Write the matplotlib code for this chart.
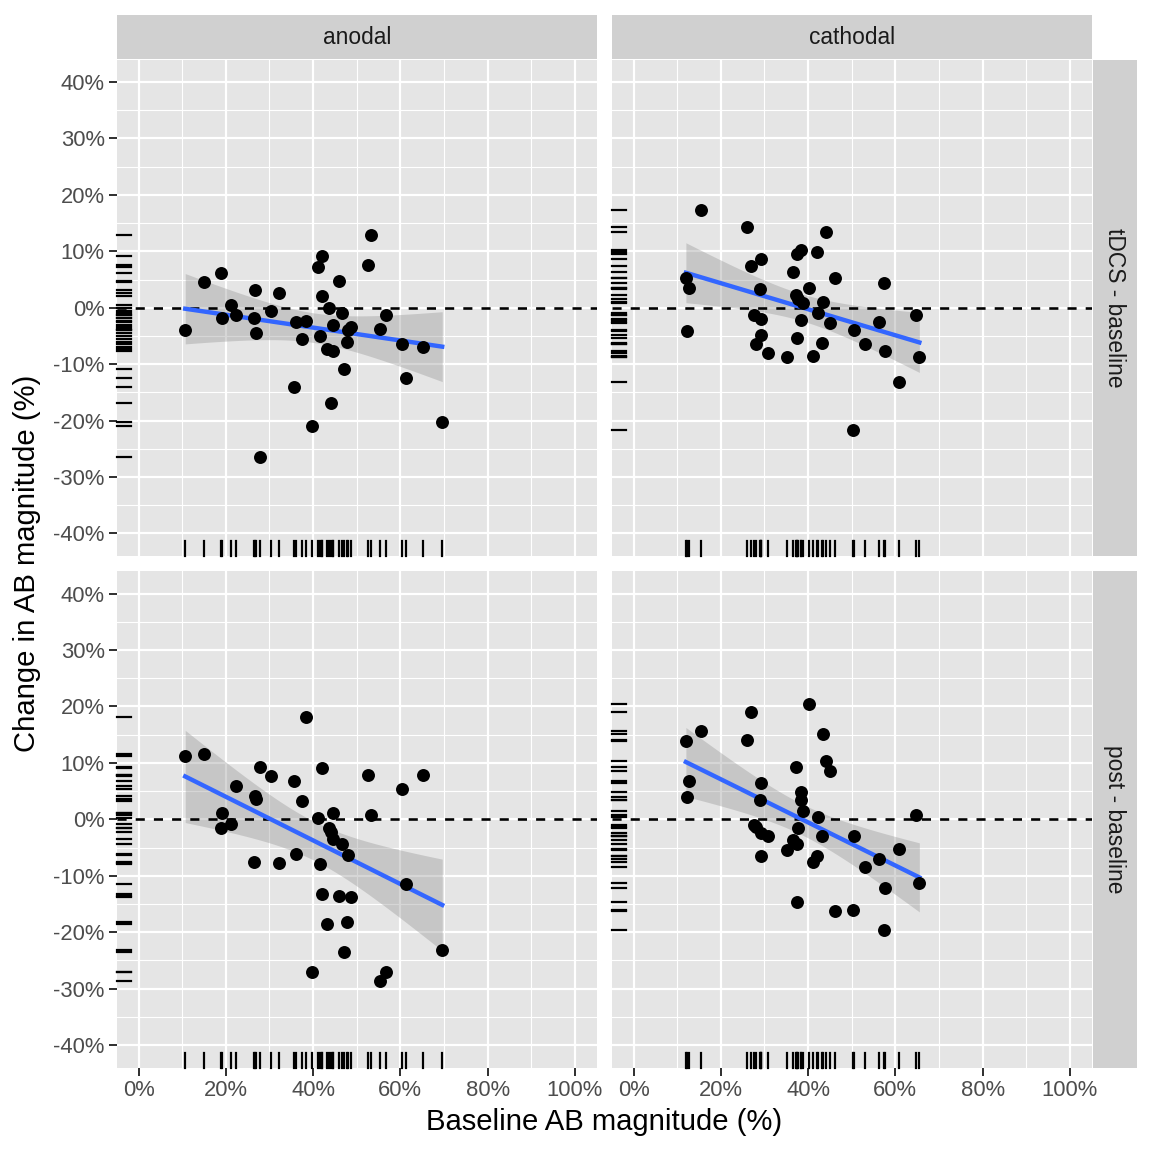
import matplotlib
matplotlib.use("Agg")
import matplotlib.pyplot as plt
import numpy as np

plt.rcParams['font.family'] = ['Liberation Sans', 'DejaVu Sans']

# baseline magnitude (%) per subject, one list per stimulation type
anodal_base = [10.7, 14.9, 18.8, 19.2, 21.2, 22.4, 26.7, 26.5, 27.0, 27.8,
               30.3, 32.3, 35.7, 36.2, 37.5, 38.3, 39.7, 41.1, 41.6, 42.0,
               42.0, 43.1, 43.7, 44.2, 44.5, 44.6, 45.9, 46.6, 47.0, 47.8,
               48.0, 48.8, 52.5, 53.2, 55.4, 56.7, 60.3, 61.3, 65.3, 69.6]
anodal_tdcs = [-3.9, 4.5, 6.1, -1.9, 0.4, -1.3, 3.2, -1.9, -4.4, -26.5,
               -0.6, 2.7, -14.0, -2.6, -5.6, -2.4, -20.9, 7.2, -5.0, 9.2,
               2.0, -7.3, -0.1, -16.8, -3.0, -7.7, 4.7, -1.0, -10.8, -6.1,
               -4.0, -3.5, 7.5, 12.9, -3.7, -1.3, -6.4, -12.4, -6.9, -20.3]
anodal_post = [11.2, 11.6, -1.6, 1.1, -0.9, 5.9, 4.2, -7.5, 3.6, 9.3,
               7.6, -7.8, 6.8, -6.1, 3.2, 18.2, -27.0, 0.2, -7.9, 9.1,
               -13.3, -18.6, -1.6, -2.3, 1.2, -3.4, -13.6, -4.4, -23.5, -18.1,
               -6.3, -13.7, 7.8, 0.8, -28.7, -27.0, 5.3, -11.4, 7.8, -23.2]

cathodal_base = [12.0, 12.2, 12.7, 15.5, 26.1, 26.9, 27.5, 28.1, 29.0, 29.2,
                 29.3, 29.3, 30.8, 35.1, 36.5, 37.3, 37.4, 37.4, 37.6, 38.4,
                 38.4, 38.8, 40.3, 41.2, 42.0, 42.2, 43.2, 43.5, 44.2, 45.1,
                 46.2, 50.2, 50.6, 53.1, 56.2, 57.5, 57.6, 60.9, 64.8, 65.5]
cathodal_tdcs = [5.3, -4.1, 3.5, 17.3, 14.4, 7.4, -1.2, -6.5, 3.4, -2.0,
                 8.7, -4.8, -8.1, -8.8, 6.3, 2.2, 9.5, -5.3, 1.5, 10.2,
                 -2.1, 0.9, 3.5, -8.5, 9.9, -1.0, -6.3, 1.1, 13.4, -2.7,
                 5.2, -21.6, -4.0, -6.5, -2.5, 4.4, -7.7, -13.2, -1.3, -8.7]
cathodal_post = [13.8, 4.0, 6.8, 15.6, 14.0, 19.1, -1.0, -1.4, 3.4, 6.4,
                 -2.4, -6.5, -3.0, -5.4, -3.7, 9.3, -4.4, -14.7, -1.5, 4.8,
                 3.4, 1.4, 20.4, -7.5, -6.5, 0.4, -3.0, 15.2, 10.3, 8.5,
                 -16.3, -16.0, -2.9, -8.4, -7.0, -19.6, -12.2, -5.2, 0.8, -11.3]

stims = ["anodal", "cathodal"]
contrasts = ["tDCS - baseline", "post - baseline"]
panels = {
    ("anodal", "tDCS - baseline"): (anodal_base, anodal_tdcs),
    ("anodal", "post - baseline"): (anodal_base, anodal_post),
    ("cathodal", "tDCS - baseline"): (cathodal_base, cathodal_tdcs),
    ("cathodal", "post - baseline"): (cathodal_base, cathodal_post),
}

x_ticks = [0, 20, 40, 60, 80, 100]
y_ticks = [-40, -30, -20, -10, 0, 10, 20, 30, 40]
T_CRIT = 2.024  # t(0.975, df=38)

W = 1152.0
def fx(p):
    return p / W
def fy(p):
    return 1 - p / W

panel_bg = "#E5E5E5"
strip_bg = "#D0D0D0"

fig = plt.figure(figsize=(8, 8), dpi=144)

col_px = [(116.7, 596.7), (611.7, 1091.7)]
row_px = [(59.5, 556.0), (571.0, 1067.7)]

for r, con in enumerate(contrasts):
    for c, stim in enumerate(stims):
        x0, x1 = col_px[c]
        y0, y1 = row_px[r]
        ax = fig.add_axes([fx(x0), fy(y1), fx(x1) - fx(x0), fy(y0) - fy(y1)])
        x, y = (np.array(v, dtype=float) for v in panels[(stim, con)])

        ax.set_facecolor(panel_bg)
        ax.set_xlim(-5, 105)
        ax.set_ylim(-44, 44)
        for s in ax.spines.values():
            s.set_visible(False)

        # grid
        for v in range(10, 100, 20):
            ax.axvline(v, color="white", lw=0.55, zorder=0)
        for v in range(-35, 40, 10):
            ax.axhline(v, color="white", lw=0.55, zorder=0)
        for v in x_ticks:
            ax.axvline(v, color="white", lw=1.1, zorder=0)
        for v in y_ticks:
            ax.axhline(v, color="white", lw=1.1, zorder=0)

        # linear fit with 95% CI
        n = len(x)
        b1, b0 = np.polyfit(x, y, 1)
        resid = y - (b0 + b1 * x)
        s = np.sqrt(np.sum(resid ** 2) / (n - 2))
        sxx = np.sum((x - x.mean()) ** 2)
        xg = np.linspace(x.min(), x.max(), 80)
        yg = b0 + b1 * xg
        se = s * np.sqrt(1.0 / n + (xg - x.mean()) ** 2 / sxx)
        ax.fill_between(xg, yg - T_CRIT * se, yg + T_CRIT * se,
                        color="#999999", alpha=0.4, lw=0, zorder=2)
        ax.axhline(0, color="black", lw=1.3, ls=(0, (3.5, 3.5)), zorder=3)
        ax.plot(xg, yg, color="#3366FF", lw=2.2, zorder=4)
        ax.scatter(x, y, s=42, color="black", lw=0, zorder=5)

        # rugs
        for xv in x:
            ax.plot([xv, xv], [0, 0.03], color="black", lw=1.1,
                    transform=ax.get_xaxis_transform(), zorder=6, clip_on=False)
        for yv in y:
            ax.plot([0, 0.03], [yv, yv], color="black", lw=1.1,
                    transform=ax.get_yaxis_transform(), zorder=6, clip_on=False)

        ax.set_xticks(x_ticks)
        ax.set_yticks(y_ticks)
        ax.tick_params(length=4, width=1, color="#333333",
                       labelsize=11, labelcolor="#4D4D4D", pad=2)
        if r == 1:
            ax.set_xticklabels([f"{v}%" for v in x_ticks])
        else:
            ax.tick_params(axis="x", length=0, labelbottom=False)
        if c == 0:
            ax.set_yticklabels([f"{v}%" for v in y_ticks])
        else:
            ax.tick_params(axis="y", length=0, labelleft=False)

        # top strips
        if r == 0:
            sax = fig.add_axes([fx(x0), fy(59.3), fx(x1) - fx(x0), fy(15) - fy(59.3)])
            sax.set_facecolor(strip_bg)
            sax.set_xticks([]); sax.set_yticks([])
            for sp in sax.spines.values():
                sp.set_visible(False)
            sax.text(0.5, 0.5, stim, ha="center", va="center",
                     fontsize=11.4, color="#1A1A1A", transform=sax.transAxes)
        # right strips
        if c == 1:
            sax = fig.add_axes([fx(1092.7), fy(y1), fx(1136.7) - fx(1092.7), fy(y0) - fy(y1)])
            sax.set_facecolor(strip_bg)
            sax.set_xticks([]); sax.set_yticks([])
            for sp in sax.spines.values():
                sp.set_visible(False)
            sax.text(0.5, 0.5, con, ha="center", va="center", rotation=-90,
                     fontsize=11.4, color="#1A1A1A", transform=sax.transAxes)

fig.text(fx(604), fy(1122), "Baseline AB magnitude (%)", ha="center", va="center",
         fontsize=14.6, color="black")
fig.text(fx(27), fy(563), "Change in AB magnitude (%)", ha="center", va="center",
         rotation=90, fontsize=14.6, color="black")

fig.savefig("out.png", dpi=144, facecolor="white")
